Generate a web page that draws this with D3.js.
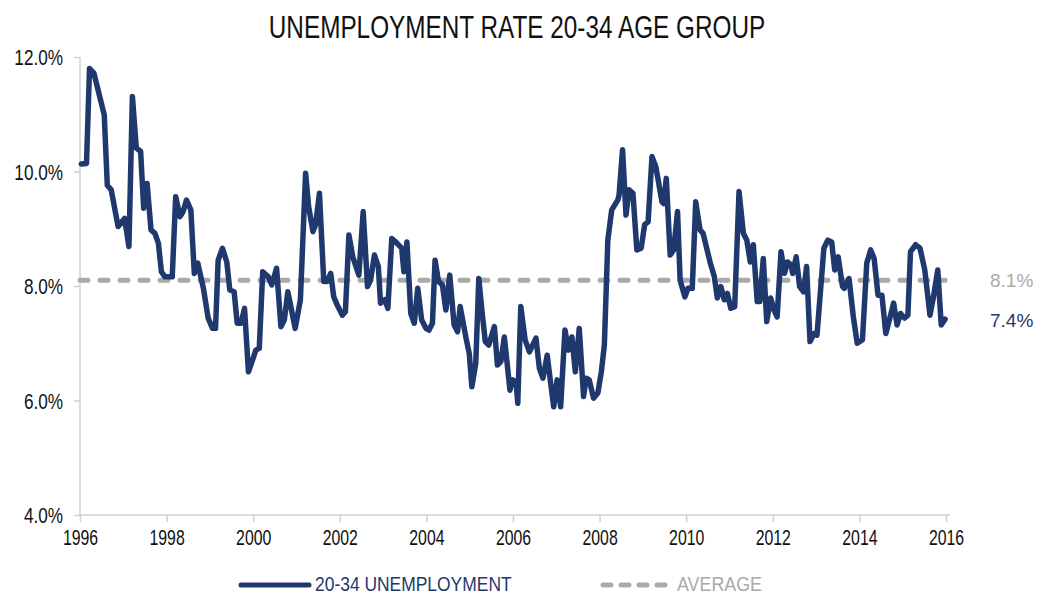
<!DOCTYPE html>
<html><head><meta charset="utf-8">
<script src="https://cdn.jsdelivr.net/npm/d3@7"></script>
<style>body{margin:0;background:#fff;}svg{display:block;}</style>
</head><body>
<svg id="c" width="1044" height="595"></svg>
<script>
const dates = [1996.03,1996.15,1996.22,1996.32,1996.56,1996.63,1996.72,1996.88,1997.03,1997.13,1997.21,1997.30,1997.40,1997.47,1997.55,1997.64,1997.73,1997.81,1997.88,1997.96,1998.13,1998.21,1998.31,1998.38,1998.46,1998.56,1998.64,1998.72,1998.85,1998.96,1999.06,1999.13,1999.19,1999.29,1999.39,1999.46,1999.56,1999.63,1999.72,1999.80,1999.89,2000.00,2000.06,2000.14,2000.22,2000.35,2000.43,2000.54,2000.64,2000.72,2000.80,2000.97,2001.09,2001.21,2001.28,2001.38,2001.44,2001.53,2001.63,2001.71,2001.79,2001.86,2001.94,2002.06,2002.13,2002.21,2002.30,2002.44,2002.54,2002.64,2002.71,2002.80,2002.89,2002.94,2003.04,2003.11,2003.20,2003.29,2003.43,2003.48,2003.55,2003.64,2003.72,2003.80,2003.89,2003.99,2004.06,2004.14,2004.20,2004.28,2004.37,2004.45,2004.54,2004.64,2004.72,2004.78,2004.91,2004.99,2005.05,2005.14,2005.21,2005.28,2005.36,2005.44,2005.57,2005.64,2005.72,2005.80,2005.93,2005.99,2006.07,2006.11,2006.18,2006.28,2006.38,2006.53,2006.61,2006.69,2006.79,2006.86,2006.94,2007.02,2007.10,2007.20,2007.28,2007.36,2007.44,2007.53,2007.63,2007.69,2007.76,2007.86,2007.96,2008.04,2008.11,2008.19,2008.28,2008.42,2008.45,2008.53,2008.61,2008.68,2008.77,2008.86,2008.96,2009.04,2009.12,2009.21,2009.30,2009.44,2009.48,2009.54,2009.63,2009.71,2009.80,2009.86,2009.97,2010.04,2010.14,2010.22,2010.32,2010.39,2010.55,2010.65,2010.72,2010.80,2010.88,2010.95,2011.03,2011.12,2011.22,2011.32,2011.40,2011.48,2011.55,2011.64,2011.70,2011.78,2011.86,2011.95,2012.03,2012.10,2012.19,2012.27,2012.34,2012.42,2012.46,2012.54,2012.62,2012.71,2012.78,2012.86,2012.95,2013.02,2013.18,2013.27,2013.36,2013.43,2013.51,2013.61,2013.65,2013.76,2013.86,2013.95,2014.07,2014.17,2014.26,2014.34,2014.43,2014.52,2014.61,2014.71,2014.79,2014.87,2014.95,2015.04,2015.12,2015.18,2015.30,2015.40,2015.51,2015.63,2015.71,2015.81,2015.89,2015.98];
const rates = [10.13,10.14,11.80,11.72,10.99,9.76,9.68,9.04,9.18,8.69,11.31,10.41,10.35,9.36,9.79,8.98,8.92,8.75,8.25,8.16,8.16,9.56,9.21,9.30,9.50,9.33,8.22,8.40,7.96,7.44,7.26,7.26,8.45,8.66,8.42,7.93,7.90,7.35,7.35,7.61,6.50,6.74,6.88,6.91,8.25,8.16,8.02,8.31,7.29,7.41,7.90,7.26,7.76,9.97,9.39,8.95,9.07,9.62,8.08,8.08,8.22,7.81,7.67,7.49,7.55,8.89,8.51,8.19,9.30,7.99,8.10,8.54,8.34,7.70,7.76,7.61,8.83,8.77,8.66,8.25,8.77,7.52,7.35,7.96,7.41,7.26,7.23,7.35,8.45,8.08,8.02,7.58,8.19,7.32,7.20,7.64,7.11,6.82,6.24,6.65,8.13,7.58,7.03,6.97,7.29,6.62,6.68,7.11,6.18,6.36,6.33,5.95,7.64,7.06,6.85,7.09,6.56,6.39,6.79,6.36,5.89,6.36,5.89,7.23,6.88,7.11,6.50,7.26,6.07,6.39,6.36,6.04,6.13,6.50,6.97,8.80,9.33,9.50,9.59,10.38,9.24,9.68,9.62,8.63,8.66,9.07,9.12,10.26,10.08,9.47,9.44,9.88,8.54,8.63,9.30,8.10,7.81,7.96,7.96,9.47,8.98,8.92,8.42,8.16,7.79,7.99,7.76,7.87,7.61,7.64,9.65,8.92,8.80,8.42,8.72,7.73,7.73,8.48,7.38,7.79,7.58,7.46,8.60,8.22,8.42,8.37,8.22,8.51,7.99,7.90,8.34,7.03,7.17,7.14,8.66,8.80,8.77,8.28,8.51,7.99,7.96,8.13,7.46,7.00,7.06,8.40,8.63,8.48,7.84,7.84,7.17,7.46,7.70,7.32,7.52,7.44,7.49,8.60,8.72,8.66,8.28,7.49,7.81,8.28,7.32,7.42];
const average = 8.1;
const latest = 7.4;
const yTicks = [4, 6, 8, 10, 12];
const xTicks = [1996,1998,2000,2002,2004,2006,2008,2010,2012,2014,2016];
const title = "UNEMPLOYMENT RATE 20-34 AGE GROUP";
const seriesNames = ["20-34 UNEMPLOYMENT", "AVERAGE"];

const NAVY = "#1f386d", GRAY = "#aaaaaa", AXIS = "#d0d0d0";
const FONT = "'Liberation Sans',Arial,sans-serif";
const svg = d3.select("#c");
const x = d3.scaleLinear().domain([1996, 2016]).range([80, 946]);
const y = d3.scaleLinear().domain([4, 12]).range([515, 57]);

// emulate a condensed typeface by compressing glyphs horizontally
function condense(sel, f) {
  sel.each(function () {
    const w = this.getComputedTextLength();
    d3.select(this).attr("textLength", w * f).attr("lengthAdjust", "spacingAndGlyphs");
  });
}

const t = svg.append("text").attr("x", 517).attr("y", 38).attr("text-anchor", "middle")
  .attr("font-family", FONT).attr("font-size", 32).attr("fill", "#111").text(title);
condense(t, 0.76);

// y axis
const ya = svg.append("g").attr("transform", "translate(80,0)")
  .call(d3.axisLeft(y).tickValues(yTicks).tickSize(6).tickPadding(11).tickFormat(d => d.toFixed(1) + "%"));
ya.select(".domain").attr("stroke", AXIS).attr("stroke-width", 1.5).attr("d", "M0,57V515");
ya.selectAll(".tick line").attr("stroke", AXIS).attr("stroke-width", 1.5);
ya.selectAll(".tick text").attr("font-family", FONT).attr("font-size", 22).attr("fill", "#111").attr("dy", "0.36em");
condense(ya.selectAll(".tick text"), 0.78);

// x axis
const xa = svg.append("g").attr("transform", "translate(0,515)")
  .call(d3.axisBottom(x).tickValues(xTicks).tickSize(7).tickPadding(7).tickFormat(d3.format("d")));
xa.select(".domain").attr("stroke", AXIS).attr("stroke-width", 1.5).attr("d", "M80,0H950");
xa.selectAll(".tick line").attr("stroke", AXIS).attr("stroke-width", 1.5);
xa.selectAll(".tick text").attr("font-family", FONT).attr("font-size", 22).attr("fill", "#111");
condense(xa.selectAll(".tick text"), 0.72);

// average line
svg.append("line").attr("x1", x(1996)).attr("x2", x(2015.98)).attr("y1", y(average)).attr("y2", y(average))
  .attr("stroke", GRAY).attr("stroke-width", 5).attr("stroke-dasharray", "8,12").attr("stroke-linecap", "round");

// series
const data = dates.map((d, i) => [d, rates[i]]);
svg.append("path").datum(data)
  .attr("d", d3.line().x(d => x(d[0])).y(d => y(d[1])))
  .attr("fill", "none").attr("stroke", NAVY).attr("stroke-width", 5.5).attr("stroke-linejoin", "round").attr("stroke-linecap", "round");

// end labels
svg.append("text").attr("x", 990).attr("y", y(average) + 7).attr("font-family", FONT)
  .attr("font-size", 19).attr("fill", GRAY).text(average.toFixed(1) + "%");
svg.append("text").attr("x", 990).attr("y", y(latest) + 7).attr("font-family", FONT)
  .attr("font-size", 19).attr("fill", NAVY).text(latest.toFixed(1) + "%");

// legend
const lg = svg.append("g");
lg.append("line").attr("x1", 241).attr("x2", 309).attr("y1", 585).attr("y2", 585)
  .attr("stroke", NAVY).attr("stroke-width", 5).attr("stroke-linecap", "round");
const l1 = lg.append("text").attr("x", 315).attr("y", 591).attr("font-family", FONT).attr("font-size", 21).attr("fill", NAVY).text(seriesNames[0]);
condense(l1, 0.83);
lg.append("line").attr("x1", 603).attr("x2", 668).attr("y1", 585).attr("y2", 585)
  .attr("stroke", GRAY).attr("stroke-width", 5).attr("stroke-dasharray", "8,10").attr("stroke-linecap", "round");
const l2 = lg.append("text").attr("x", 677).attr("y", 591).attr("font-family", FONT).attr("font-size", 21).attr("fill", GRAY).text(seriesNames[1]);
condense(l2, 0.85);
</script>
</body></html>
